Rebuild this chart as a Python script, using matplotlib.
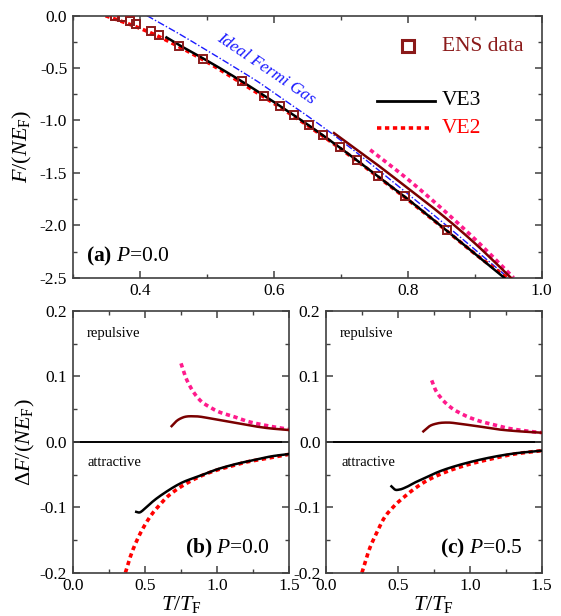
import numpy as np
import matplotlib
matplotlib.use("Agg")
import matplotlib.pyplot as plt
from matplotlib.ticker import MultipleLocator, FormatStrFormatter

plt.rcParams['font.family'] = ['Liberation Serif', 'DejaVu Serif']
plt.rcParams['mathtext.fontset'] = 'custom'
plt.rcParams['mathtext.rm'] = 'Liberation Serif'
plt.rcParams['mathtext.it'] = 'Liberation Serif:italic'
plt.rcParams['mathtext.bf'] = 'Liberation Serif:bold'
plt.rcParams['axes.unicode_minus'] = False

# ---- panel (a): free energy F/(N E_F) vs T/T_F, P=0.0 ----
ens_t = [0.3635, 0.373, 0.385, 0.394, 0.417, 0.429, 0.459, 0.494, 0.552, 0.586,
         0.609, 0.631, 0.652, 0.674, 0.699, 0.725, 0.756, 0.796, 0.858]
ens_f = [0.0, -0.016, -0.051, -0.080, -0.146, -0.181, -0.286, -0.410, -0.627, -0.763,
         -0.862, -0.951, -1.043, -1.142, -1.253, -1.380, -1.530, -1.724, -2.045]

ve3_t = [0.44, 0.459, 0.494, 0.552, 0.609, 0.652, 0.699, 0.756, 0.796, 0.858, 0.90, 0.944]
ve3_f = [-0.207, -0.28, -0.405, -0.625, -0.86, -1.045, -1.26, -1.535, -1.73, -2.05, -2.27, -2.5]

ve2_t = [0.349, 0.38, 0.417, 0.46, 0.50, 0.55, 0.60, 0.65, 0.70, 0.75, 0.80, 0.85, 0.90, 0.948]
ve2_f = [0.0, -0.07, -0.165, -0.30, -0.44, -0.635, -0.835, -1.045, -1.27, -1.51, -1.755, -2.01, -2.27, -2.5]

ifg_t = [0.411, 0.45, 0.50, 0.55, 0.58, 0.60, 0.65, 0.69, 0.75, 0.80, 0.85, 0.90, 0.95]
ifg_f = [0.0, -0.14, -0.33, -0.525, -0.645, -0.735, -0.955, -1.14, -1.44, -1.70, -1.96, -2.23, -2.5]

ve3r_t = [0.69, 0.75, 0.80, 0.85, 0.90, 0.954]
ve3r_f = [-1.12, -1.40, -1.645, -1.895, -2.17, -2.5]

ve2r_t = [0.744, 0.80, 0.85, 0.90, 0.958]
ve2r_f = [-1.28, -1.56, -1.835, -2.13, -2.5]

# ---- panel (b): Delta F, P=0.0 ----
b_ve2r_t = [0.75, 0.78, 0.82, 0.88, 0.95, 1.0, 1.11, 1.2, 1.34, 1.5]
b_ve2r_f = [0.12, 0.10, 0.082, 0.064, 0.053, 0.047, 0.039, 0.032, 0.025, 0.019]
b_ve3r_t = [0.685, 0.72, 0.76, 0.85, 0.95, 1.05, 1.2, 1.35, 1.5]
b_ve3r_f = [0.024, 0.032, 0.037, 0.039, 0.036, 0.032, 0.026, 0.021, 0.018]
b_ve3a_t = [0.44, 0.46, 0.5, 0.55, 0.65, 0.75, 0.88, 1.0, 1.11, 1.25, 1.38, 1.5]
b_ve3a_f = [-0.107, -0.108, -0.102, -0.092, -0.076, -0.063, -0.052, -0.042, -0.035, -0.028, -0.022, -0.0186]
b_ve2a_t = [0.365, 0.4, 0.45, 0.5, 0.55, 0.6, 0.65, 0.7, 0.8, 0.9, 1.0, 1.1, 1.2, 1.3, 1.4, 1.5]
b_ve2a_f = [-0.2, -0.175, -0.148, -0.127, -0.11, -0.097, -0.085, -0.076, -0.062, -0.051,
            -0.043, -0.037, -0.031, -0.027, -0.023, -0.019]

# ---- panel (c): Delta F, P=0.5 ----
c_ve2r_t = [0.735, 0.76, 0.8, 0.86, 0.95, 1.05, 1.15, 1.26, 1.38, 1.5]
c_ve2r_f = [0.094, 0.08, 0.067, 0.054, 0.042, 0.033, 0.027, 0.021, 0.017, 0.014]
c_ve3r_t = [0.677, 0.72, 0.77, 0.84, 0.95, 1.05, 1.2, 1.35, 1.5]
c_ve3r_f = [0.016, 0.024, 0.028, 0.0295, 0.027, 0.024, 0.019, 0.016, 0.014]
c_ve3a_t = [0.455, 0.48, 0.51, 0.56, 0.62, 0.68, 0.78, 0.9, 1.0, 1.14, 1.3, 1.5]
c_ve3a_f = [-0.068, -0.073, -0.073, -0.069, -0.062, -0.056, -0.046, -0.037, -0.031, -0.024, -0.018, -0.0135]
c_ve2a_t = [0.25, 0.3, 0.35, 0.4, 0.47, 0.55, 0.68, 0.8, 0.91, 1.0, 1.15, 1.3, 1.5]
c_ve2a_f = [-0.2, -0.165, -0.14, -0.118, -0.099, -0.083, -0.062, -0.049, -0.04, -0.034, -0.026, -0.019, -0.0135]

C_ENS = '#8b1a1a'
C_DRED = '#7a0000'
C_PINK = '#ff1a8c'
C_RED = '#ff0000'
C_BLUE = '#1a1aff'
SPINE = '#404040'

DOT = dict(ls=(0, (1.2, 1.0)), lw=2.6)


def smooth(t, f, n=200):
    # piecewise cubic hermite through the read points
    t = np.asarray(t, float)
    f = np.asarray(f, float)
    tt = np.linspace(t[0], t[-1], n)
    m = np.gradient(f, t)
    idx = np.clip(np.searchsorted(t, tt) - 1, 0, len(t) - 2)
    h = t[idx + 1] - t[idx]
    s = (tt - t[idx]) / h
    h00 = 2 * s**3 - 3 * s**2 + 1
    h10 = s**3 - 2 * s**2 + s
    h01 = -2 * s**3 + 3 * s**2
    h11 = s**3 - s**2
    ff = h00 * f[idx] + h10 * h * m[idx] + h01 * f[idx + 1] + h11 * h * m[idx + 1]
    return tt, ff


def style_axes(ax):
    for sp in ax.spines.values():
        sp.set_color(SPINE)
        sp.set_linewidth(1.2)
    ax.tick_params(which='both', direction='in', top=True, right=True,
                   color=SPINE, labelsize=12.5, pad=4)
    ax.tick_params(which='major', length=5, width=1.1)
    ax.tick_params(which='minor', length=3, width=1.0)


fig = plt.figure(figsize=(5.61, 6.16), dpi=100)
W, H = 561.0, 616.0
ax_a = fig.add_axes([72.7 / W, 1 - 277.7 / H, 469 / W, 262 / H])
ax_b = fig.add_axes([72.7 / W, 1 - 572.7 / H, 216.6 / W, 261.7 / H])
ax_c = fig.add_axes([326 / W, 1 - 572.7 / H, 215.7 / W, 261.7 / H])

# ---------------- panel (a) ----------------
ax = ax_a
ax.plot(*smooth(ifg_t, ifg_f), color=C_BLUE, lw=1.0, ls=(0, (5, 1.5, 1, 1.5)), zorder=2)
ax.plot(*smooth(ve2r_t, ve2r_f), color=C_PINK, zorder=2, **DOT)
ax.plot(*smooth(ve3r_t, ve3r_f), color=C_DRED, lw=1.8, zorder=3)
ax.plot(*smooth(ve2_t, ve2_f), color=C_RED, zorder=2, **DOT)
ax.plot(*smooth(ve3_t, ve3_f), color='black', lw=1.8, zorder=3)
ax.plot(ens_t, ens_f, ls='none', marker='s', ms=6, mfc='none', mec=C_ENS, mew=1.4, zorder=4)
ax.set_xlim(0.3, 1.0)
ax.set_ylim(-2.5, 0.0)
ax.xaxis.set_major_locator(MultipleLocator(0.2))
ax.xaxis.set_minor_locator(MultipleLocator(0.1))
ax.yaxis.set_major_locator(MultipleLocator(0.5))
ax.yaxis.set_minor_locator(MultipleLocator(0.25))
ax.xaxis.set_major_formatter(FormatStrFormatter('%.1f'))
ax.yaxis.set_major_formatter(FormatStrFormatter('%.1f'))
style_axes(ax)
ax.set_ylabel(r'$F/(NE_{\mathrm{F}})$', fontsize=16, labelpad=4)
ax.text(0.589, -0.505, 'Ideal Fermi Gas', color=C_BLUE, fontsize=12.5, style='italic',
        rotation=-34, ha='center', va='center', rotation_mode='anchor')
ax.text(0.028, 0.08, r'$\mathbf{(a)}\ P$=0.0', transform=ax.transAxes,
        fontsize=15.5, ha='left', va='center')

# legend keys
ax.plot([0.7156], [0.884], transform=ax.transAxes, ls='none', marker='s', ms=9,
        mfc='none', mec=C_ENS, mew=2.2, clip_on=False)
ax.text(0.787, 0.884, 'ENS data', color=C_ENS, fontsize=15.5, transform=ax.transAxes,
        ha='left', va='center')
ax.plot([0.648, 0.773], [0.676, 0.676], transform=ax.transAxes, color='black', lw=2)
ax.text(0.787, 0.676, 'VE3', color='black', fontsize=15.5, transform=ax.transAxes,
        ha='left', va='center')
ax.plot([0.648, 0.765], [0.570, 0.570], transform=ax.transAxes, color=C_RED, **DOT)
ax.text(0.787, 0.570, 'VE2', color=C_RED, fontsize=15.5, transform=ax.transAxes,
        ha='left', va='center')

# ---------------- panels (b), (c) ----------------
panels = [
    (ax_b, b_ve2r_t, b_ve2r_f, b_ve3r_t, b_ve3r_f, b_ve3a_t, b_ve3a_f, b_ve2a_t, b_ve2a_f,
     r'$\mathbf{(b)}\ P$=0.0'),
    (ax_c, c_ve2r_t, c_ve2r_f, c_ve3r_t, c_ve3r_f, c_ve3a_t, c_ve3a_f, c_ve2a_t, c_ve2a_f,
     r'$\mathbf{(c)}\ P$=0.5'),
]
for ax, prt, prf, drt, drf, bat, baf, rat, raf, lab in panels:
    ax.axhline(0.0, color='black', lw=1.4, zorder=1)
    ax.plot(*smooth(prt, prf), color=C_PINK, zorder=2, **DOT)
    ax.plot(*smooth(drt, drf), color=C_DRED, lw=1.8, zorder=3)
    ax.plot(*smooth(rat, raf), color=C_RED, zorder=2, **DOT)
    ax.plot(*smooth(bat, baf), color='black', lw=1.8, zorder=3)
    ax.set_xlim(0.0, 1.5)
    ax.set_ylim(-0.2, 0.2)
    ax.xaxis.set_major_locator(MultipleLocator(0.5))
    ax.xaxis.set_minor_locator(MultipleLocator(0.25))
    ax.yaxis.set_major_locator(MultipleLocator(0.1))
    ax.yaxis.set_minor_locator(MultipleLocator(0.05))
    ax.xaxis.set_major_formatter(FormatStrFormatter('%.1f'))
    ax.yaxis.set_major_formatter(FormatStrFormatter('%.1f'))
    style_axes(ax)
    ax.set_xlabel(r'$T/T_{\mathrm{F}}$', fontsize=16, labelpad=0)
    ax.text(0.065, 0.915, 'repulsive', transform=ax.transAxes, fontsize=10.5,
            ha='left', va='center')
    ax.text(0.07, 0.42, 'attractive', transform=ax.transAxes, fontsize=10.5,
            ha='left', va='center')
    ax.text(0.91, 0.093, lab, transform=ax.transAxes, fontsize=15.5,
            ha='right', va='center')

ax_b.set_ylabel(r'$\Delta F/(NE_{\mathrm{F}})$', fontsize=16, labelpad=2)

fig.savefig('out.png', dpi=100)
